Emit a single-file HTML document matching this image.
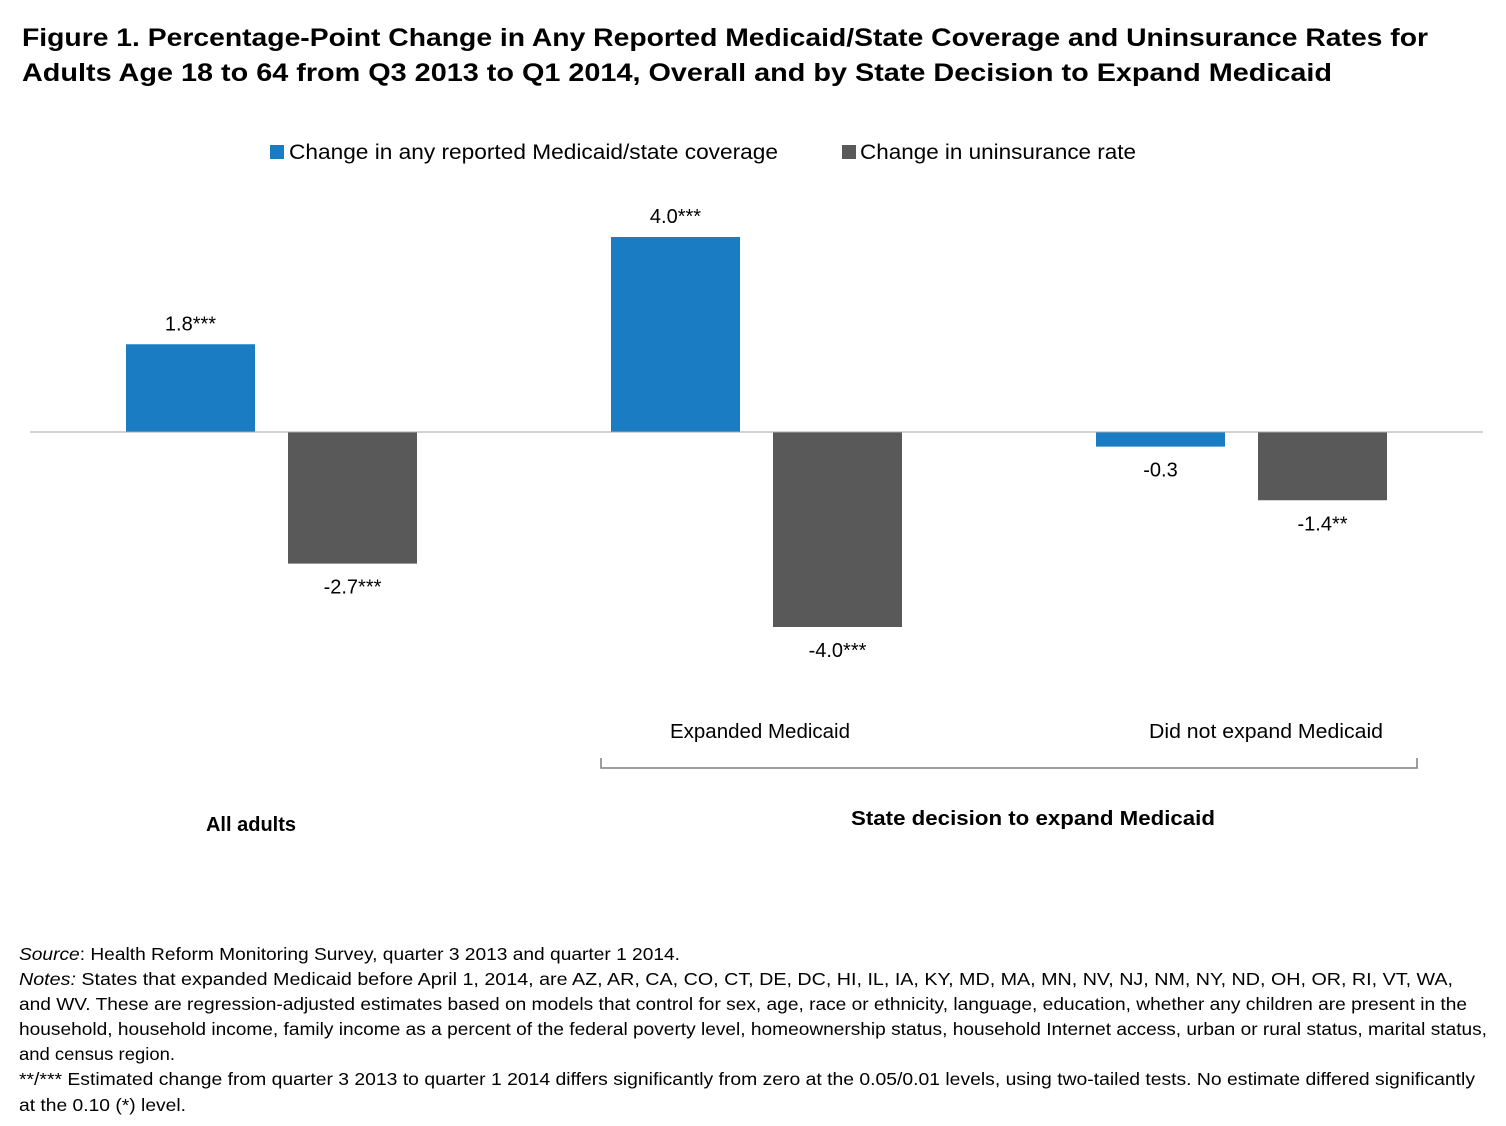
<!DOCTYPE html>
<html><head><meta charset="utf-8"><style>
html,body{margin:0;padding:0;background:#fff}
svg{display:block;font-family:"Liberation Sans",sans-serif}
</style></head><body>
<svg id="chart" width="1506" height="1126" viewBox="0 0 1506 1126">
<g font-weight="bold" font-size="25" fill="#000">
<text x="22" y="46" textLength="1406" lengthAdjust="spacingAndGlyphs">Figure 1. Percentage-Point Change in Any Reported Medicaid/State Coverage and Uninsurance Rates for</text>
<text x="22" y="81" textLength="1310" lengthAdjust="spacingAndGlyphs">Adults Age 18 to 64 from Q3 2013 to Q1 2014, Overall and by State Decision to Expand Medicaid</text>
</g>
<g font-size="21" fill="#000">
<rect x="270" y="145" width="14" height="14" fill="#1a7dc4"/>
<text x="289" y="159" textLength="489" lengthAdjust="spacingAndGlyphs">Change in any reported Medicaid/state coverage</text>
<rect x="842" y="145" width="14" height="14" fill="#595959"/>
<text x="860" y="159" textLength="276" lengthAdjust="spacingAndGlyphs">Change in uninsurance rate</text>
</g>
<g id="bars"></g>
<line x1="30" y1="432" x2="1483" y2="432" stroke="#a6a6a6" stroke-width="1"/>
<g font-size="20" fill="#000" text-anchor="middle">
<text x="760" y="738" textLength="180" lengthAdjust="spacingAndGlyphs">Expanded Medicaid</text>
<text x="1266" y="738" textLength="234" lengthAdjust="spacingAndGlyphs">Did not expand Medicaid</text>
<text x="251" y="831" font-weight="bold">All adults</text>
<text x="1033" y="825" font-weight="bold" textLength="364" lengthAdjust="spacingAndGlyphs">State decision to expand Medicaid</text>
</g>
<path d="M601 758 V768 H1417 V758" fill="none" stroke="#7f7f7f" stroke-width="1.5"/>
<g font-size="17.5" fill="#000">
<text x="19" y="960" textLength="661" lengthAdjust="spacingAndGlyphs"><tspan font-style="italic">Source</tspan>: Health Reform Monitoring Survey, quarter 3 2013 and quarter 1 2014.</text>
<text x="19" y="985" textLength="1434" lengthAdjust="spacingAndGlyphs"><tspan font-style="italic">Notes:</tspan> States that expanded Medicaid before April 1, 2014, are AZ, AR, CA, CO, CT, DE, DC, HI, IL, IA, KY, MD, MA, MN, NV, NJ, NM, NY, ND, OH, OR, RI, VT, WA,</text>
<text x="19" y="1010" textLength="1448" lengthAdjust="spacingAndGlyphs">and WV. These are regression-adjusted estimates based on models that control for sex, age, race or ethnicity, language, education, whether any children are present in the</text>
<text x="19" y="1035" textLength="1468" lengthAdjust="spacingAndGlyphs">household, household income, family income as a percent of the federal poverty level, homeownership status, household Internet access, urban or rural status, marital status,</text>
<text x="19" y="1060" textLength="156" lengthAdjust="spacingAndGlyphs">and census region.</text>
<text x="19" y="1085" textLength="1456" lengthAdjust="spacingAndGlyphs">**/*** Estimated change from quarter 3 2013 to quarter 1 2014 differs significantly from zero at the 0.05/0.01 levels, using two-tailed tests. No estimate differed significantly</text>
<text x="19" y="1111" textLength="167" lengthAdjust="spacingAndGlyphs">at the 0.10 (*) level.</text>
</g>
</svg>
<script>
const categories = ["All adults", "Expanded Medicaid", "Did not expand Medicaid"];
const medicaidValues = [1.8, 4.0, -0.3];
const uninsuranceValues = [-2.7, -4.0, -1.4];
const medicaidLabels = ["1.8***", "4.0***", "-0.3"];
const uninsuranceLabels = ["-2.7***", "-4.0***", "-1.4**"];

const NS = "http://www.w3.org/2000/svg";
const zeroY = 432, pxPerUnit = 48.75;
function yScale(v){ return zeroY - v * pxPerUnit; }
function groupCenter(i){ return 271 + i * 485; }
const barW = 129;
const g = document.getElementById('bars');
function drawBar(i, v, label, offset, color, name){
  const x = groupCenter(i) + offset;
  const y0 = Math.min(yScale(v), zeroY), h = Math.abs(yScale(v) - zeroY);
  const r = document.createElementNS(NS, 'rect');
  r.setAttribute('x', x); r.setAttribute('y', y0);
  r.setAttribute('width', barW); r.setAttribute('height', h);
  r.setAttribute('fill', color);
  
  
  g.appendChild(r);
  const t = document.createElementNS(NS, 'text');
  t.setAttribute('x', x + barW / 2);
  t.setAttribute('y', v >= 0 ? yScale(v) - 14 : yScale(v) + 30);
  t.setAttribute('text-anchor', 'middle');
  t.setAttribute('font-size', '20');
  t.textContent = label;
  
  
  g.appendChild(t);
}
categories.forEach((c, i) => {
  drawBar(i, medicaidValues[i], medicaidLabels[i], -145, '#1a7dc4', 'medicaid');
  drawBar(i, uninsuranceValues[i], uninsuranceLabels[i], 17, '#595959', 'uninsurance');
});
</script>
</body></html>
